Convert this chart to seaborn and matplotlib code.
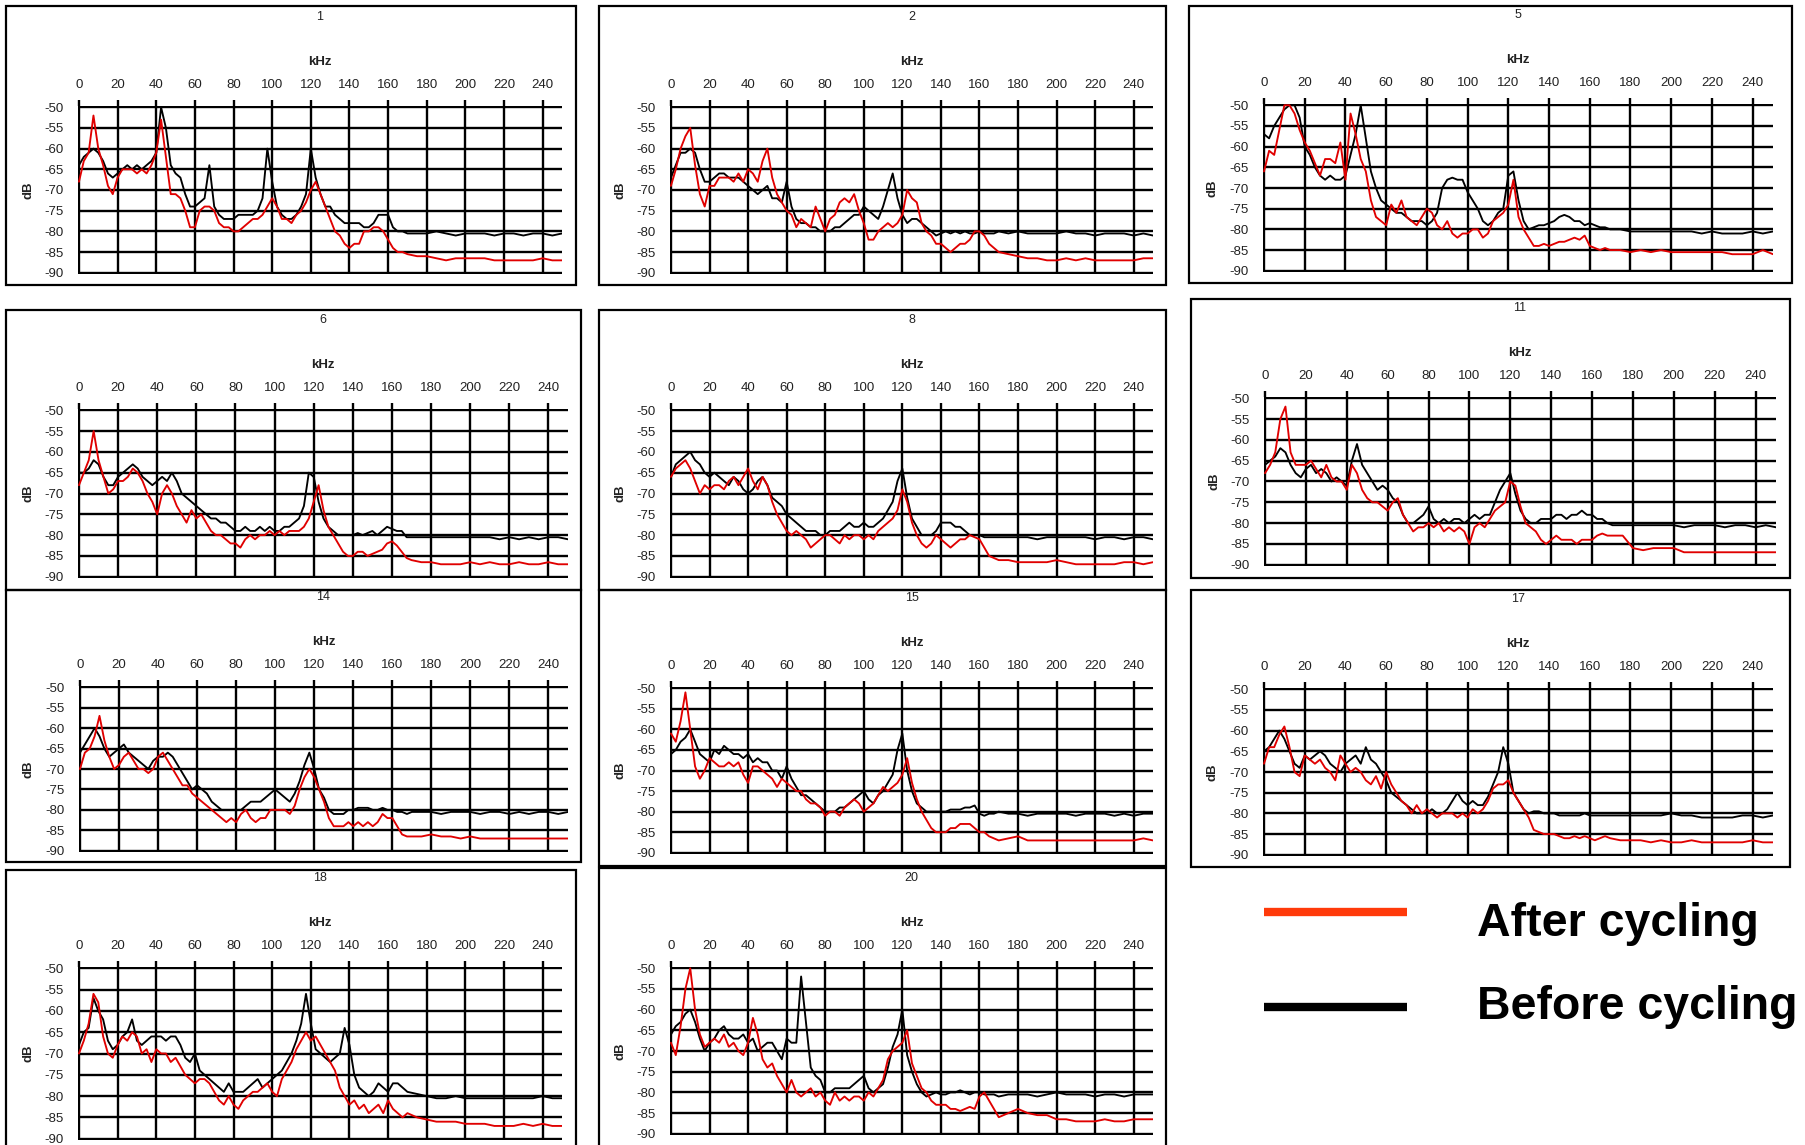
import numpy as np
import pandas as pd
import matplotlib
matplotlib.use("Agg")
import matplotlib.pyplot as plt
from matplotlib.patches import Rectangle
from matplotlib.lines import Line2D
import seaborn as sns

# ---------------- data ----------------
FREQ = [0, 2.5, 5, 7.5, 10, 12.5, 15, 17.5, 20, 22.5,
        25, 27.5, 30, 32.5, 35, 37.5, 40, 42.5, 45, 47.5,
        50, 52.5, 55, 57.5, 60, 62.5, 65, 67.5, 70, 72.5,
        75, 77.5, 80, 82.5, 85, 87.5, 90, 92.5, 95, 97.5,
        100, 102.5, 105, 107.5, 110, 112.5, 115, 117.5, 120, 122.5,
        125, 127.5, 130, 132.5, 135, 137.5, 140, 142.5, 145, 147.5,
        150, 152.5, 155, 157.5, 160, 162.5, 165, 167.5, 170,
        175, 180, 185, 190, 195, 200, 205, 210, 215, 220, 225, 230, 235, 240, 245, 250]

PANEL_TITLES = ["1", "2", "5", "6", "8", "11", "14", "15", "17", "18", "20"]

P1_BEFORE = [-64, -62, -61, -60, -61, -63, -66, -67, -66, -65,
             -64, -65, -64, -65, -64, -63, -61, -50, -55, -64,
             -66, -67, -71, -74, -74, -73, -72, -64, -74, -76,
             -77, -77, -77, -76, -76, -76, -76, -75, -72, -60,
             -68, -74, -76, -77, -77, -76, -74, -71, -60, -67,
             -71, -74, -74, -76, -77, -78, -78, -78, -78, -79,
             -79, -78, -76, -76, -76, -79, -80, -80, -80.5,
             -80.5, -80.5, -80, -80.5, -81, -80.5, -80.5, -80.5, -81, -80.5, -80.5, -81, -80.5, -80.5, -81, -80.5]
P1_AFTER = [-68, -63, -61, -52, -60, -64, -69, -71, -67, -65,
            -65, -65, -66, -65, -66, -64, -61, -53, -62, -71,
            -71, -72, -75, -79, -79, -75, -74, -74, -75, -78,
            -79, -79, -80, -80, -79, -78, -77, -77, -76, -74,
            -72, -74, -77, -77, -78, -76, -75, -73, -70, -68,
            -71, -74, -77, -80, -81, -83, -84, -83, -83, -80,
            -80, -79, -79, -80, -82, -84, -85, -85, -85.5,
            -86, -86, -86.5, -87, -86.5, -86.5, -86.5, -86.5, -87, -87, -87, -87, -87, -86.5, -87, -87]

P2_BEFORE = [-67, -64, -61, -61, -60, -61, -65, -68, -68, -67,
             -66, -66, -67, -67, -67, -68, -69, -70, -71, -70,
             -69, -72, -72, -73, -68, -74, -77, -78, -78, -79,
             -79, -80, -80, -80, -79, -79, -78, -77, -76, -76,
             -74, -75, -76, -77, -74, -70, -66, -72, -76, -78,
             -77, -77, -78, -79, -80, -81, -80.5, -80, -80.5, -80,
             -80.5, -80, -80.5, -80.5, -80, -80.5, -80.5, -80.5, -80,
             -80.5, -80, -80.5, -80.5, -80.5, -80.5, -80, -80.5, -80.5, -81, -80.5, -80.5, -80.5, -81, -80.5, -81]
P2_AFTER = [-69, -65, -60, -57, -55, -64, -71, -74, -69, -69,
            -67, -67, -67, -68, -66, -68, -65, -66, -68, -63,
            -60, -67, -71, -73, -75, -76, -79, -77, -78, -79,
            -74, -77, -80, -77, -76, -73, -72, -73, -71, -75,
            -78, -82, -82, -80, -79, -78, -79, -78, -76, -70,
            -72, -73, -78, -80, -81, -83, -83, -84, -85, -84,
            -83, -83, -82, -80, -80, -81, -83, -84, -85,
            -85.5, -86, -86.5, -86.5, -87, -87, -86.5, -87, -86.5, -87, -87, -87, -87, -87, -86.5, -86.5]

P5_BEFORE = [-57, -58, -55, -53, -51, -50, -50, -53, -60, -62,
             -65, -67, -68, -67, -68, -68, -67, -62, -57, -50,
             -58, -66, -70, -73, -74, -75, -76, -76, -77, -78,
             -78, -78, -79, -78, -76, -70, -68, -67.5, -68, -68,
             -71, -73, -75, -78, -79, -78, -76, -75, -67, -66,
             -73, -78, -80, -79.5, -79, -79, -78.5, -78, -77, -76.5,
             -77, -78, -78, -79, -78.5, -79, -79.5, -79.5, -80,
             -80, -80.5, -80.5, -80.5, -80.5, -80.5, -80.5, -80.5, -81, -80.5, -81, -81, -81, -80.5, -81, -80.5]
P5_AFTER = [-66, -61, -62, -56, -50, -50, -52, -56, -59, -61,
            -64, -67, -63, -63, -64, -59, -68, -52, -57, -63,
            -66, -73, -77, -78, -79, -74, -76, -73, -77, -78,
            -79, -77, -75, -76, -79, -80, -78, -81, -82, -81,
            -81, -80, -80, -82, -81, -78, -77, -76, -74, -68,
            -77, -80, -82, -84, -84, -83.5, -84, -83.5, -83, -83,
            -82.5, -82, -82.5, -81.5, -84, -84.5, -85, -84.5, -85,
            -85, -85.5, -85, -85.5, -85, -85.5, -85.5, -85.5, -85.5, -85.5, -85.5, -86, -86, -86, -85, -86]

P6_BEFORE = [-65, -65, -64, -62, -63, -66, -68, -68, -66, -65,
             -64, -63, -64, -66, -67, -68, -67, -66, -67, -65,
             -67, -70, -71, -72, -73, -74, -75, -76, -76, -77,
             -77, -78, -79, -79, -78, -79, -79, -78, -79, -78,
             -79, -79, -78, -78, -77, -76, -73, -65, -66, -72,
             -76, -78, -79, -80, -80, -80, -80, -79.5, -80, -79.5,
             -79, -80, -79, -78, -78.5, -79, -79, -80.5, -80.5,
             -80.5, -80.5, -80.5, -80.5, -80.5, -80.5, -80.5, -80.5, -81, -80.5, -81, -80.5, -81, -80.5, -80.5, -81]
P6_AFTER = [-68, -65, -62, -55, -62, -66, -70, -69, -67, -67,
            -66, -64, -65, -67, -70, -72, -75, -70, -68, -70,
            -73, -75, -77, -74, -76, -75, -77, -79, -80, -80,
            -81, -82, -82, -83, -81, -80, -81, -80, -80, -79,
            -80, -79, -80, -79, -79, -79, -78, -76, -72, -68,
            -74, -78, -80, -82, -84, -85, -85, -84, -84, -85,
            -84.5, -84, -83.5, -82, -81.5, -82.5, -84, -85.5, -86,
            -86.5, -86.5, -87, -87, -87, -86.5, -87, -86.5, -87, -87, -86.5, -87, -87, -86.5, -87, -87]

P8_BEFORE = [-66, -63, -62, -61, -60, -62, -63, -65, -66, -65,
             -66, -67, -68, -66, -67, -69, -70, -69, -67, -66,
             -68, -71, -72, -73, -75, -76, -77, -78, -79, -79,
             -79, -80, -80, -79, -79, -79, -78, -77, -78, -78,
             -77, -78, -78, -77, -76, -74, -72, -67, -64, -71,
             -76, -78, -80, -80, -80, -79, -77, -77, -77, -78,
             -78, -79, -80, -80, -80, -80.5, -80.5, -80.5, -80.5,
             -80.5, -80.5, -80.5, -81, -80.5, -80.5, -80.5, -80.5, -80.5, -81, -80.5, -80.5, -81, -80.5, -80.5, -81]
P8_AFTER = [-66, -64, -63, -62, -64, -67, -70, -68, -69, -68,
            -68, -69, -67, -66, -68, -66, -64, -67, -69, -66,
            -68, -72, -75, -77, -79, -80, -79, -80, -81, -83,
            -82, -81, -80, -80, -81, -82, -80, -81, -80, -80,
            -81, -80, -81, -79, -78, -77, -76, -74, -69, -72,
            -77, -80, -82, -83, -82, -80, -81, -82, -83, -82,
            -81, -81, -80, -80.5, -81, -83, -85, -85.5, -86,
            -86, -86.5, -86.5, -86.5, -86.5, -86, -86.5, -87, -87, -87, -87, -87, -86.5, -86.5, -87, -86.5]

P11_BEFORE = [-66, -65, -64, -62, -63, -66, -68, -69, -67, -66,
              -68, -67, -68, -70, -69, -70, -71, -65, -61, -66,
              -68, -70, -72, -71, -72, -74, -75, -78, -80, -80,
              -79, -78, -76, -79, -80, -79, -80, -79, -79, -80,
              -79, -78, -79, -78, -78, -75, -72, -70, -68, -73,
              -77, -79, -80, -80, -79, -79, -79, -78, -78, -79,
              -78, -78, -77, -78, -78, -79, -79, -80, -80.5,
              -80.5, -80.5, -80.5, -80.5, -80.5, -80.5, -81, -80.5, -80.5, -80.5, -81, -80.5, -80.5, -81, -80.5, -81]
P11_AFTER = [-68, -66, -63, -55, -52, -63, -66, -66, -66, -65,
             -67, -69, -66, -69, -70, -70, -72, -66, -68, -72,
             -74, -75, -75, -76, -77, -75, -74, -78, -80, -82,
             -81, -81, -80, -81, -80, -82, -81, -82, -81, -82,
             -85, -81, -80, -81, -79, -77, -76, -75, -70, -71,
             -76, -80, -81, -82, -84, -85, -84, -83, -84, -84,
             -84, -85, -84, -84, -84, -83, -82.5, -83, -83,
             -83, -86, -86.5, -86, -86, -86, -87, -87, -87, -87, -87, -87, -87, -87, -87, -87]

P14_BEFORE = [-66, -64, -62, -60, -62, -65, -67, -66, -65, -64,
              -66, -67, -68, -69, -70, -68, -67, -67, -66, -67,
              -69, -71, -73, -75, -74, -75, -76, -78, -79, -80,
              -80, -80, -80, -80, -79, -78, -78, -78, -77, -76,
              -75, -76, -77, -78, -76, -73, -69, -66, -70, -75,
              -77, -80, -81, -81, -81, -80, -80, -79.5, -79.5, -79.5,
              -80, -80, -79.5, -80, -80, -80.5, -80.5, -81, -80.5,
              -80.5, -80.5, -81, -80.5, -80.5, -80.5, -81, -80.5, -80.5, -81, -80.5, -81, -80.5, -80.5, -81, -80.5]
P14_AFTER = [-70, -66, -65, -62, -57, -63, -67, -70, -69, -67,
             -66, -68, -70, -70, -71, -70, -67, -66, -68, -70,
             -72, -74, -74, -76, -77, -78, -79, -80, -81, -82,
             -83, -82, -83, -81, -80, -82, -83, -82, -82, -80,
             -80, -80, -80, -81, -79, -75, -72, -70, -72, -75,
             -78, -82, -84, -84, -84, -83, -84, -83, -84, -83,
             -84, -83, -81, -82, -82, -84, -86, -86.5, -86.5,
             -86.5, -86, -86.5, -86.5, -87, -86.5, -87, -87, -87, -87, -87, -87, -87, -87, -87, -87]

P15_BEFORE = [-66, -65, -63, -62, -60, -63, -66, -67, -68, -65,
              -66, -64, -65, -66, -66, -67, -66, -68, -67, -68,
              -68, -70, -70, -72, -69, -72, -74, -76, -76, -77,
              -78, -79, -80, -80, -80, -79, -79, -78, -77, -76,
              -75, -77, -78, -76, -75, -73, -71, -65, -61, -70,
              -75, -78, -79, -80, -80, -80, -80, -80, -79.5, -79.5,
              -79.5, -79, -79, -78.5, -80.5, -81, -80.5, -80.5, -80,
              -80.5, -80.5, -81, -80.5, -80.5, -80.5, -80.5, -81, -80.5, -80.5, -80.5, -81, -80.5, -81, -80.5, -80.5]
P15_AFTER = [-61, -63, -58, -51, -60, -69, -72, -70, -67, -68,
             -69, -69, -68, -69, -68, -71, -73, -69, -69, -70,
             -71, -72, -74, -72, -73, -74, -75, -75, -77, -78,
             -78, -79, -81, -80, -80, -81, -79, -78, -77, -78,
             -80, -79, -78, -76, -74, -75, -74, -73, -71, -67,
             -73, -77, -80, -82, -84, -85, -85, -85, -84, -84,
             -83, -83, -83, -84, -85, -85, -86, -86.5, -87,
             -86.5, -86, -87, -87, -87, -87, -87, -87, -87, -87, -87, -87, -87, -87, -86.5, -87]

P17_BEFORE = [-65, -64, -62, -60, -62, -65, -68, -69, -66, -67,
              -66, -65, -66, -68, -69, -70, -68, -67, -66, -68,
              -64, -67, -68, -70, -72, -75, -76, -77, -78, -79,
              -80, -80, -80, -79, -80, -80, -79, -77, -75, -77,
              -78, -77, -78, -78, -76, -73, -70, -64, -68, -75,
              -77, -79, -80, -79.5, -79.5, -80, -80, -80, -80.5, -80.5,
              -80.5, -80.5, -80.5, -80, -80.5, -80.5, -80.5, -80.5, -80.5,
              -80.5, -80.5, -80.5, -80.5, -80.5, -80, -80.5, -80.5, -81, -81, -81, -81, -80.5, -80.5, -81, -80.5]
P17_AFTER = [-68, -64, -64, -61, -59, -64, -70, -71, -66, -67,
             -68, -67, -69, -70, -72, -66, -68, -70, -69, -70,
             -72, -73, -71, -74, -70, -73, -75, -77, -78, -80,
             -78, -80, -79, -80, -81, -80, -80, -80, -81, -80,
             -81, -79, -80, -79, -77, -74, -73, -73, -72, -75,
             -77, -79, -81, -84, -84.5, -85, -85, -85, -85.5, -86,
             -86, -85.5, -86, -85.5, -86, -86.5, -86, -85.5, -86,
             -86.5, -86.5, -86.5, -87, -86.5, -87, -87, -86.5, -87, -87, -87, -87, -87, -86.5, -87, -87]

P18_BEFORE = [-68, -65, -64, -57, -60, -62, -67, -69, -68, -66,
              -65, -62, -67, -68, -67, -66, -66, -66, -67, -66,
              -66, -68, -71, -72, -70, -74, -75, -76, -77, -78,
              -79, -77, -79, -79, -79, -78, -77, -76, -78, -77,
              -76, -75, -74, -72, -70, -67, -63, -56, -63, -69,
              -70, -71, -72, -71, -70, -64, -68, -75, -78, -79,
              -80, -79, -77, -78, -79, -77, -77, -78, -79,
              -79.5, -80, -80.5, -80.5, -80, -80.5, -80.5, -80.5, -80.5, -80.5, -80.5, -80.5, -80.5, -80, -80.5, -80.5]
P18_AFTER = [-70, -67, -63, -56, -58, -66, -70, -71, -68, -66,
             -67, -65, -66, -70, -69, -72, -69, -70, -70, -72,
             -71, -73, -75, -76, -77, -76, -76, -77, -79, -81,
             -82, -80, -82, -83, -81, -80, -79, -79, -78, -77,
             -79, -80, -76, -74, -72, -69, -67, -65, -67, -66,
             -68, -70, -72, -74, -78, -80, -82, -81, -83, -82,
             -84, -83, -82, -84, -81, -83, -84, -85, -84,
             -85, -85.5, -86, -86, -86, -86.5, -86.5, -86.5, -87, -87, -87, -86.5, -87, -86.5, -87, -87]

P20_BEFORE = [-66, -64, -63, -61, -60, -63, -67, -70, -68, -67,
              -65, -64, -66, -67, -67, -66, -68, -67, -70, -69,
              -68, -68, -70, -72, -67, -68, -68, -52, -63, -74,
              -76, -77, -80, -80, -79, -79, -79, -79, -78, -77,
              -76, -79, -80, -79, -78, -74, -69, -66, -60, -71,
              -75, -78, -80, -81, -80.5, -80, -80.5, -80.5, -80, -80,
              -79.5, -80, -80.5, -80, -80, -80.5, -80.5, -80.5, -81,
              -80.5, -80.5, -80.5, -81, -80.5, -80, -80.5, -80.5, -80.5, -81, -80.5, -80.5, -81, -80.5, -80.5, -80.5]
P20_AFTER = [-68, -71, -64, -55, -50, -60, -66, -69, -68, -67,
             -68, -66, -69, -68, -70, -71, -68, -62, -66, -72,
             -74, -73, -76, -78, -80, -77, -80, -81, -80, -79,
             -81, -80, -82, -83, -80, -82, -81, -82, -81, -81,
             -82, -80, -81, -79, -77, -72, -70, -69, -68, -65,
             -73, -76, -79, -80, -82, -83, -83, -83, -84, -84,
             -84.5, -84, -83.5, -84, -81, -80, -82, -84, -86,
             -85, -84, -85, -85.5, -85.5, -86.5, -86.5, -87, -87, -87, -86.5, -87, -87, -86.5, -86.5, -86.5]

BEFORE = [P1_BEFORE, P2_BEFORE, P5_BEFORE, P6_BEFORE, P8_BEFORE, P11_BEFORE,
          P14_BEFORE, P15_BEFORE, P17_BEFORE, P18_BEFORE, P20_BEFORE]
AFTER = [P1_AFTER, P2_AFTER, P5_AFTER, P6_AFTER, P8_AFTER, P11_AFTER,
         P14_AFTER, P15_AFTER, P17_AFTER, P18_AFTER, P20_AFTER]

X_TICKS = [0, 20, 40, 60, 80, 100, 120, 140, 160, 180, 200, 220, 240]
Y_TICKS = [-90, -85, -80, -75, -70, -65, -60, -55, -50]
LEGEND_LABELS = ["After cycling", "Before cycling"]

# ---------------- layout (pixels of the 1805x1145 canvas) ----------------
W, H = 1805, 1145
# axes: left, right, top, bottom
AXES_PX = [(78, 562, 106, 274), (670, 1153, 106, 274), (1263, 1773, 104, 272),
           (78, 568, 409, 578), (670, 1153, 409, 578), (1264, 1776, 397, 566),
           (79, 568, 686, 852), (670, 1153, 687, 854), (1263, 1773, 688, 856),
           (78, 562, 967, 1140), (670, 1153, 967, 1135)]
BOX_PX = [(6, 576, 6, 285), (599, 1166, 6, 285), (1189, 1792, 6, 283),
          (6, 581, 310, 590), (599, 1166, 310, 590), (1191, 1790, 299, 578),
          (6, 581, 590, 862), (599, 1166, 590, 866), (1191, 1790, 590, 867),
          (6, 576, 870, 1160), (599, 1166, 868, 1160)]

sns.set_style("white")
plt.rcParams["font.family"] = ["Liberation Sans", "DejaVu Sans"]

fig = plt.figure(figsize=(W / 100, H / 100), dpi=100)
fig.patch.set_facecolor("white")

RED = "#e00000"
palette = {"Before cycling": "black", "After cycling": RED}

for i, title in enumerate(PANEL_TITLES):
    L, R, T, B = AXES_PX[i]
    ax = fig.add_axes([L / W, 1 - B / H, (R - L) / W, (B - T) / H])
    n = len(FREQ)
    df = pd.DataFrame({
        "kHz": FREQ + FREQ,
        "dB": BEFORE[i] + AFTER[i],
        "state": ["Before cycling"] * n + ["After cycling"] * n,
    })
    sns.lineplot(data=df, x="kHz", y="dB", hue="state",
                 hue_order=["Before cycling", "After cycling"],
                 palette=palette, estimator=None, sort=False,
                 linewidth=1.35, legend=False, ax=ax, zorder=3)
    ax.set_xlim(-0.5, 250)
    ax.set_ylim(-90.3, -49.7)
    ax.set_xticks(X_TICKS)
    ax.set_yticks(Y_TICKS)
    ax.set_yticklabels([str(v) for v in Y_TICKS])
    ax.xaxis.tick_top()
    ax.grid(True, color="black", linewidth=1.7)
    ax.set_axisbelow(True)
    for s in ax.spines.values():
        s.set_visible(False)
    ax.tick_params(axis="both", direction="out", length=4, width=1.7,
                   color="black", labelsize=9.5, labelcolor="#222222", pad=6)
    ax.tick_params(axis="x", pad=7)
    ax.set_xlabel("")
    ax.set_ylabel("")
    ax.annotate(title, xy=(0.5, 1), xycoords="axes fraction",
                xytext=(0, 64), textcoords="offset points",
                ha="center", va="center", fontsize=9, color="#222222")
    ax.annotate("kHz", xy=(0.5, 1), xycoords="axes fraction",
                xytext=(0, 32), textcoords="offset points",
                ha="center", va="center", fontsize=9.5, fontweight="bold",
                color="#222222")
    ax.annotate("dB", xy=(0, 0.5), xycoords="axes fraction",
                xytext=(-36, 0), textcoords="offset points",
                ha="center", va="center", rotation=90, fontsize=9.5,
                fontweight="bold", color="#222222")

# panel frames
for (L, R, T, B) in BOX_PX:
    fig.add_artist(Rectangle((L / W, 1 - B / H), (R - L) / W, (B - T) / H,
                             transform=fig.transFigure, fill=False,
                             edgecolor="black", linewidth=1.6))

# legend
LEG_COLORS = ["#ff3a0a", "black"]
LEG_Y = [912, 1007]
TXT_Y = [924, 1007]
for lab, col, ly, ty in zip(LEGEND_LABELS, LEG_COLORS, LEG_Y, TXT_Y):
    fig.add_artist(Line2D([1264 / W, 1407 / W], [1 - ly / H, 1 - ly / H],
                          transform=fig.transFigure, color=col, linewidth=6,
                          solid_capstyle="butt"))
    fig.text(1477 / W, 1 - ty / H, lab, fontsize=33.5, fontweight="bold",
             ha="left", va="center", color="black")

fig.savefig("out.png", dpi=100, facecolor="white")
